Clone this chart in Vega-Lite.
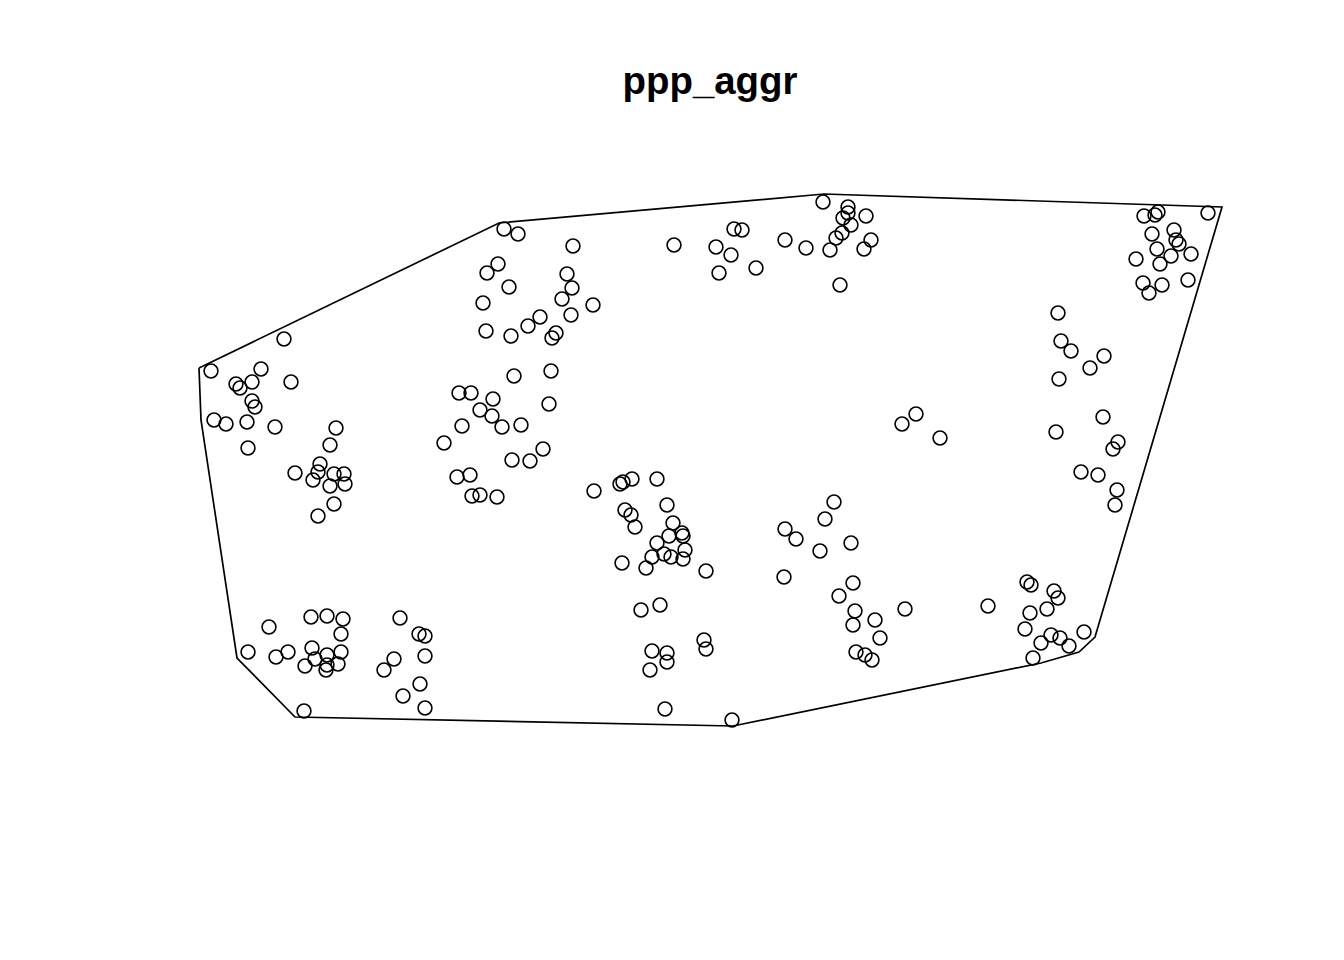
{
  "$schema": "https://vega.github.io/schema/vega-lite/v6.json",
  "width": 1344,
  "height": 960,
  "autosize": {"type": "none"},
  "padding": 0,
  "background": "white",
  "config": {"view": {"stroke": null}},
  "datasets": {
    "win": [
      {"i": 0, "x": 199, "y": 368},
      {"i": 1, "x": 201, "y": 420},
      {"i": 2, "x": 237, "y": 658},
      {"i": 3, "x": 295, "y": 717},
      {"i": 4, "x": 733, "y": 726},
      {"i": 5, "x": 1041, "y": 663},
      {"i": 6, "x": 1079, "y": 652},
      {"i": 7, "x": 1095, "y": 637},
      {"i": 8, "x": 1222, "y": 207},
      {"i": 9, "x": 824, "y": 194},
      {"i": 10, "x": 499, "y": 223},
      {"i": 11, "x": 199, "y": 368}
    ],
    "pts": [
      {"x":284,"y":339},{"x":211,"y":371},{"x":261,"y":369},{"x":236,"y":384},{"x":240,"y":388},
      {"x":252,"y":382},{"x":291,"y":382},{"x":252,"y":401},{"x":255,"y":407},{"x":214,"y":420},
      {"x":226,"y":424},{"x":247,"y":422},{"x":275,"y":427},{"x":336,"y":428},{"x":248,"y":448},
      {"x":330,"y":445},{"x":459,"y":393},{"x":462,"y":426},{"x":444,"y":443},{"x":504,"y":229},
      {"x":518,"y":234},{"x":573,"y":246},{"x":674,"y":245},{"x":716,"y":247},{"x":719,"y":273},
      {"x":498,"y":264},{"x":487,"y":273},{"x":567,"y":274},{"x":509,"y":287},{"x":572,"y":288},
      {"x":562,"y":299},{"x":593,"y":305},{"x":483,"y":303},{"x":540,"y":317},{"x":528,"y":326},
      {"x":571,"y":315},{"x":486,"y":331},{"x":511,"y":336},{"x":556,"y":333},{"x":552,"y":338},
      {"x":551,"y":371},{"x":514,"y":376},{"x":549,"y":404},{"x":471,"y":393},{"x":493,"y":399},
      {"x":480,"y":410},{"x":492,"y":416},{"x":502,"y":427},{"x":521,"y":425},{"x":543,"y":449},
      {"x":512,"y":460},{"x":530,"y":461},{"x":823,"y":202},{"x":848,"y":207},{"x":848,"y":213},
      {"x":843,"y":218},{"x":851,"y":225},{"x":866,"y":216},{"x":842,"y":233},{"x":836,"y":238},
      {"x":871,"y":240},{"x":864,"y":249},{"x":830,"y":250},{"x":840,"y":285},{"x":734,"y":229},
      {"x":742,"y":230},{"x":731,"y":255},{"x":756,"y":268},{"x":785,"y":240},{"x":806,"y":248},
      {"x":916,"y":414},{"x":902,"y":424},{"x":940,"y":438},{"x":1144,"y":216},{"x":1155,"y":215},
      {"x":1158,"y":212},{"x":1208,"y":213},{"x":1152,"y":234},{"x":1174,"y":230},{"x":1176,"y":240},
      {"x":1179,"y":244},{"x":1157,"y":249},{"x":1171,"y":256},{"x":1191,"y":254},{"x":1160,"y":264},
      {"x":1136,"y":259},{"x":1143,"y":283},{"x":1149,"y":293},{"x":1162,"y":285},{"x":1188,"y":280},
      {"x":1058,"y":313},{"x":1061,"y":341},{"x":1071,"y":351},{"x":1104,"y":356},{"x":1090,"y":368},
      {"x":1059,"y":379},{"x":1103,"y":417},{"x":1056,"y":432},{"x":1118,"y":442},{"x":1113,"y":449},
      {"x":295,"y":473},{"x":320,"y":464},{"x":318,"y":472},{"x":313,"y":480},{"x":334,"y":474},
      {"x":344,"y":474},{"x":345,"y":484},{"x":330,"y":486},{"x":334,"y":504},{"x":318,"y":516},
      {"x":311,"y":617},{"x":327,"y":616},{"x":343,"y":619},{"x":341,"y":634},{"x":269,"y":627},
      {"x":248,"y":652},{"x":276,"y":657},{"x":288,"y":652},{"x":312,"y":648},{"x":315,"y":659},
      {"x":305,"y":666},{"x":327,"y":655},{"x":341,"y":652},{"x":338,"y":664},{"x":327,"y":665},
      {"x":326,"y":670},{"x":400,"y":618},{"x":419,"y":634},{"x":425,"y":636},{"x":425,"y":656},
      {"x":394,"y":659},{"x":384,"y":670},{"x":420,"y":684},{"x":403,"y":696},{"x":425,"y":708},
      {"x":304,"y":711},{"x":457,"y":477},{"x":470,"y":475},{"x":472,"y":496},{"x":480,"y":495},
      {"x":497,"y":497},{"x":594,"y":491},{"x":620,"y":484},{"x":623,"y":482},{"x":632,"y":479},
      {"x":657,"y":479},{"x":625,"y":510},{"x":631,"y":515},{"x":635,"y":527},{"x":667,"y":505},
      {"x":673,"y":523},{"x":682,"y":533},{"x":683,"y":536},{"x":669,"y":536},{"x":657,"y":543},
      {"x":685,"y":550},{"x":652,"y":557},{"x":664,"y":554},{"x":671,"y":557},{"x":683,"y":559},
      {"x":646,"y":568},{"x":622,"y":563},{"x":706,"y":571},{"x":660,"y":605},{"x":641,"y":610},
      {"x":704,"y":640},{"x":706,"y":649},{"x":652,"y":651},{"x":667,"y":653},{"x":667,"y":662},
      {"x":650,"y":670},{"x":665,"y":709},{"x":834,"y":502},{"x":825,"y":519},{"x":785,"y":529},
      {"x":796,"y":539},{"x":820,"y":551},{"x":851,"y":543},{"x":784,"y":577},{"x":853,"y":583},
      {"x":839,"y":596},{"x":855,"y":611},{"x":853,"y":625},{"x":875,"y":620},{"x":905,"y":609},
      {"x":880,"y":638},{"x":856,"y":652},{"x":865,"y":655},{"x":872,"y":660},{"x":732,"y":720},
      {"x":1081,"y":472},{"x":1098,"y":475},{"x":1117,"y":490},{"x":1115,"y":505},{"x":988,"y":606},
      {"x":1027,"y":582},{"x":1031,"y":585},{"x":1054,"y":591},{"x":1058,"y":598},{"x":1047,"y":609},
      {"x":1030,"y":613},{"x":1025,"y":629},{"x":1051,"y":635},{"x":1060,"y":638},{"x":1041,"y":643},
      {"x":1069,"y":646},{"x":1084,"y":632},{"x":1033,"y":658}
    ],
    "ttl": [{"x": 710, "y": 82, "label": "ppp_aggr"}]
  },
  "layer": [
    {
      "data": {"name": "win"},
      "mark": {"type": "line", "color": "black", "strokeWidth": 1.7, "interpolate": "linear"},
      "encoding": {
        "x": {"field": "x", "type": "quantitative", "scale": {"domain": [0, 1344]}, "axis": null},
        "y": {"field": "y", "type": "quantitative", "scale": {"domain": [0, 960], "reverse": true}, "axis": null},
        "order": {"field": "i", "type": "quantitative"}
      }
    },
    {
      "data": {"name": "pts"},
      "mark": {"type": "point", "shape": "circle", "filled": false, "stroke": "black", "strokeWidth": 1.6, "size": 192, "opacity": 1},
      "encoding": {
        "x": {"field": "x", "type": "quantitative", "scale": {"domain": [0, 1344]}, "axis": null},
        "y": {"field": "y", "type": "quantitative", "scale": {"domain": [0, 960], "reverse": true}, "axis": null}
      }
    },
    {
      "data": {"name": "ttl"},
      "mark": {"type": "text", "font": "Liberation Sans", "fontWeight": "bold", "fontSize": 38.4, "align": "center", "baseline": "middle", "color": "black"},
      "encoding": {
        "x": {"field": "x", "type": "quantitative", "scale": {"domain": [0, 1344]}, "axis": null},
        "y": {"field": "y", "type": "quantitative", "scale": {"domain": [0, 960], "reverse": true}, "axis": null},
        "text": {"field": "label"}
      }
    }
  ]
}
